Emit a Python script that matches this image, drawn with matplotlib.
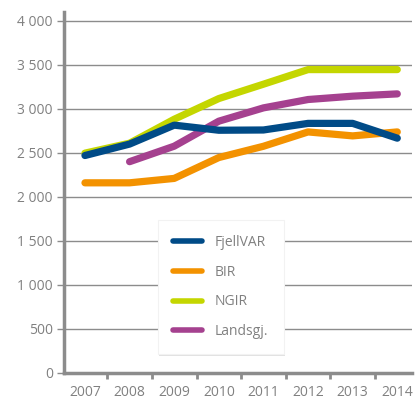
import numpy as np
import matplotlib
matplotlib.use("Agg")
import matplotlib.pyplot as plt
import matplotlib.patheffects as pe

years = ['2007', '2008', '2009', '2010', '2011', '2012', '2013', '2014']

fjellvar = [2470, 2600, 2815, 2757, 2760, 2835, 2835, 2667]
bir = [2160, 2160, 2210, 2447, 2575, 2738, 2693, 2738]
ngir = [2497, 2610, 2882, 3117, 3280, 3446, 3446, 3446]
landsgj = [np.nan, 2400, 2576, 2860, 3011, 3106, 3144, 3170]

series = [('FjellVAR', fjellvar, '#004b87'),
          ('BIR', bir, '#f39200'),
          ('NGIR', ngir, '#c4d600'),
          ('Landsgj.', landsgj, '#a5418f')]

grey = '#808080'
plt.rcParams['font.family'] = ['Open Sans', 'DejaVu Sans']

fig = plt.figure(figsize=(4.16, 4.03), dpi=100)
ax = fig.add_axes([64/416, 30/403, 348/416, 361/403])

x = np.arange(len(years))
# draw order: NGIR, Landsgj, BIR, FjellVAR on top
order = [2, 3, 1, 0]
lines = {}
for i in order:
    name, vals, col = series[i]
    ln, = ax.plot(x, vals, color=col, lw=5.2, solid_capstyle='round',
                  solid_joinstyle='round', label=name, zorder=3 + (3 - i))
    lines[name] = ln

ax.set_xlim(-0.47, 7.33)
ax.set_ylim(0, 4100)
ax.set_yticks(np.arange(0, 4001, 500))
ax.set_yticklabels(['0', '500', '1 000', '1 500', '2 000', '2 500', '3 000', '3 500', '4 000'])
ax.set_xticks(x)
ax.set_xticklabels(years)
ax.set_xticks(np.arange(0.5, 7, 1), minor=True)

ax.grid(axis='y', color='#8c8c8c', lw=1.0, zorder=1)
ax.set_axisbelow(True)
for s in ['top', 'right']:
    ax.spines[s].set_visible(False)
for s in ['left', 'bottom']:
    ax.spines[s].set_color('#8c8c8c')
    ax.spines[s].set_linewidth(2.5)

ax.tick_params(axis='x', which='major', length=0, labelsize=10, colors=grey, pad=9)
ax.tick_params(axis='x', which='minor', length=4, width=2, color='#8c8c8c')
ax.tick_params(axis='y', length=5, width=1, color='#8c8c8c', labelsize=10, labelcolor=grey, pad=3)

handles = [lines[n] for n, _, _ in series]
leg = ax.legend(handles, [h.get_label() for h in handles],
                loc='upper left', bbox_to_anchor=((158 - 64) / 348, (373 - 220) / 361),
                frameon=True, fancybox=False, handlelength=2.1, handletextpad=0.9,
                labelspacing=1.05, borderpad=1.1, fontsize=10, labelcolor=grey,
                edgecolor='#f2f2f2', framealpha=1, borderaxespad=0)
leg.get_frame().set_linewidth(0.8)
leg.get_frame().set_path_effects([pe.withSimplePatchShadow(offset=(1, -1), shadow_rgbFace='#d0d0d0', alpha=0.6)])
for h in leg.get_lines():
    h.set_linewidth(4)
leg.set_zorder(10)

fig.savefig('out.png', dpi=100)
